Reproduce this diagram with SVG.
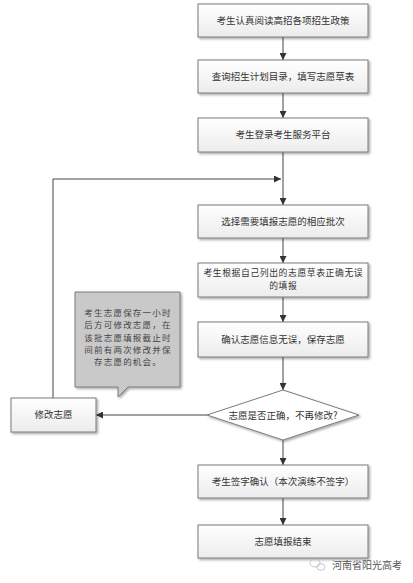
<svg xmlns="http://www.w3.org/2000/svg" width="413" height="583" viewBox="0 0 413 583">
<defs>
<linearGradient id="g" x1="0" y1="0" x2="0" y2="1">
<stop offset="0" stop-color="#ffffff"/>
<stop offset="1" stop-color="#ececec"/>
</linearGradient>
<filter id="sh" x="-10%" y="-20%" width="130%" height="160%">
<feDropShadow dx="1.5" dy="1.5" stdDeviation="1" flood-color="#000" flood-opacity="0.35"/>
</filter>
<marker id="ah" viewBox="0 0 10 10" refX="10" refY="5" markerWidth="7" markerHeight="7" markerUnits="userSpaceOnUse" orient="auto">
<path d="M0,0 L10,5 L0,10 z" fill="#333"/>
</marker>
</defs>
<style>
.box{fill:url(#g);stroke:#7a7a7a;stroke-width:1;filter:url(#sh)}
.dia{fill:#fff;stroke:#7a7a7a;stroke-width:1;filter:url(#sh)}
.call{fill:#c9c9c9;stroke:#7a7a7a;stroke-width:1;filter:url(#sh)}
.t{font-family:"Noto Sans CJK SC","Noto Sans CJK TC",sans-serif;font-size:9.5px;fill:#333;text-anchor:middle}
.t2{font-family:"Noto Sans CJK SC","Noto Sans CJK TC",sans-serif;font-size:8.8px;letter-spacing:0.6px;fill:#333;text-anchor:middle}
.ct{font-family:"Noto Sans CJK SC",sans-serif;font-size:8.5px;letter-spacing:1.2px;fill:#444;text-anchor:middle}
.c{fill:none;stroke:#444;stroke-width:1}
</style>
<rect width="413" height="583" fill="#fff"/>
<g id="connectors">
<line class="c" x1="283" y1="37" x2="283" y2="60" marker-end="url(#ah)"/>
<line class="c" x1="283" y1="93" x2="283" y2="118" marker-end="url(#ah)"/>
<line class="c" x1="283" y1="152" x2="283" y2="205" marker-end="url(#ah)"/>
<line class="c" x1="283" y1="238" x2="283" y2="263" marker-end="url(#ah)"/>
<line class="c" x1="283" y1="297" x2="283" y2="322" marker-end="url(#ah)"/>
<line class="c" x1="283" y1="357" x2="283" y2="390" marker-end="url(#ah)"/>
<line class="c" x1="283" y1="440" x2="283" y2="465" marker-end="url(#ah)"/>
<line class="c" x1="283" y1="498" x2="283" y2="525" marker-end="url(#ah)"/>
<line class="c" x1="207" y1="415" x2="96" y2="415" marker-end="url(#ah)"/>
<polyline class="c" points="53,398 53,179 281,179" marker-end="url(#ah)"/>
</g>
<g id="n1"><rect class="box" x="198" y="4" width="170" height="33"/><text class="t" x="283" y="24">考生认真阅读高招各项招生政策</text></g>
<g id="n2"><rect class="box" x="198" y="60" width="170" height="33"/><text class="t" x="283" y="80">查询招生计划目录，填写志愿草表</text></g>
<g id="n3"><rect class="box" x="198" y="118" width="170" height="34"/><text class="t" x="283" y="138">考生登录考生服务平台</text></g>
<g id="n4"><rect class="box" x="198" y="205" width="170" height="33"/><text class="t" x="283" y="225">选择需要填报志愿的相应批次</text></g>
<g id="n5"><rect class="box" x="198" y="263" width="170" height="34"/><text class="t2" x="283.3" y="276">考生根据自己列出的志愿草表正确无误</text><text class="t2" x="283.3" y="289">的填报</text></g>
<g id="n6"><rect class="box" x="198" y="322" width="170" height="35"/><text class="t" x="283" y="343">确认志愿信息无误，保存志愿</text></g>
<g id="n7"><polygon class="dia" points="283,390 359,415 283,440 207,415"/><text class="t" x="283" y="419">志愿是否正确，不再修改?</text></g>
<g id="n8"><rect class="box" x="198" y="465" width="170" height="33"/><text class="t" x="283" y="485">考生签字确认（本次演练不签字）</text></g>
<g id="n9"><rect class="box" x="198" y="525" width="170" height="33"/><text class="t" x="283" y="545">志愿填报结束</text></g>
<g id="n10"><rect class="box" x="11" y="398" width="85" height="34"/><text class="t" x="53.5" y="418">修改志愿</text></g>
<g id="callout"><path class="call" d="M75,292 H180 V387 H128 L118,397 V387 H75 Z"/>
<text class="ct" x="128" y="316">考生志愿保存一小时</text>
<text class="ct" x="128" y="328.3">后方可修改志愿，在</text>
<text class="ct" x="128" y="340.6">该批志愿填报截止时</text>
<text class="ct" x="128" y="352.9">间前有两次修改并保</text>
<text class="ct" x="128" y="365.2">存志愿的机会。</text></g>
<g id="watermark">
<ellipse cx="315" cy="563" rx="5" ry="4" fill="none" stroke="#bbb" stroke-width="0.8"/>
<ellipse cx="321" cy="567" rx="4" ry="3.3" fill="none" stroke="#bbb" stroke-width="0.8"/>
<text x="332" y="569" font-family="Noto Sans CJK SC,sans-serif" font-size="10" fill="#555">河南省阳光高考</text>
</g>
</svg>
